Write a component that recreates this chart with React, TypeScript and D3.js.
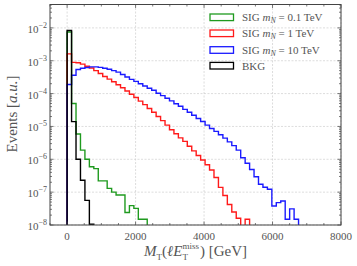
import React, { useEffect, useRef } from "react";
import * as d3 from "d3";

// bin width of all histograms [GeV], bins start at 0
const binWidth = 130;

const sig01 = [
  7.5e-3, 5.0e-5, 5.9e-6, 1.9e-6, 1.0e-6, 5.9e-7, 5.2e-7, 2.2e-7, 2.2e-7, 1.3e-7,
  1.0e-7, 8.2e-8, 8.2e-8, 2.4e-8, 3.9e-8, 3.2e-8, 1.5e-8, 1.5e-8,
];

const sig1 = [
  1.62e-3, 8.9e-4, 8.7e-4, 7.9e-4, 6.8e-4, 6.0e-4, 5.0e-4, 4.1e-4, 3.3e-4, 2.75e-4,
  2.3e-4, 1.86e-4, 1.5e-4, 1.2e-4, 9.5e-5, 7.6e-5, 5.9e-5, 4.6e-5, 3.5e-5, 2.7e-5,
  2.0e-5, 1.5e-5, 1.1e-5, 7.9e-6, 6.0e-6, 4.5e-6, 3.5e-6, 2.5e-6, 1.8e-6, 1.3e-6,
  9.5e-7, 6.8e-7, 4.7e-7, 2.8e-7, 1.4e-7, 7.9e-8, 4.2e-8, 2.5e-8, 1.6e-8, 0,
  1.5e-8,
];

const sig10 = [
  1.9e-4, 3.6e-4, 5.4e-4, 5.9e-4, 6.2e-4, 6.5e-4, 6.5e-4, 6.3e-4, 5.9e-4, 5.5e-4,
  5.0e-4, 4.5e-4, 3.8e-4, 3.2e-4, 2.7e-4, 2.35e-4, 2.0e-4, 1.7e-4, 1.45e-4, 1.26e-4,
  1.02e-4, 8.7e-5, 7.2e-5, 6.0e-5, 4.9e-5, 4.1e-5, 3.3e-5, 2.7e-5, 2.2e-5, 1.74e-5,
  1.41e-5, 1.1e-5, 8.7e-6, 7.1e-6, 5.6e-6, 4.4e-6, 3.4e-6, 2.6e-6, 1.9e-6, 1.12e-6,
  7.6e-7, 4.9e-7, 2.95e-7, 1.74e-7, 1.41e-7, 1.23e-7, 3.8e-8, 4.8e-8, 5.4e-8, 1.5e-8,
  3.1e-8, 1.5e-8,
];

const bkg = [8.3e-3, 1.4e-5, 1.0e-6, 2.3e-7, 5.6e-8, 1.05e-8];

const xTicks = [0, 2000, 4000, 6000, 8000];
const yTicks = [-8, -7, -6, -5, -4, -3, -2];

const series = [
  { label: "0.1", values: sig01, color: "#1f9a1f" },
  { label: "1", values: sig1, color: "#ff1a1a" },
  { label: "10", values: sig10, color: "#1a1aff" },
  { label: "BKG", values: bkg, color: "#000000" },
];

export default function App() {
  const ref = useRef<SVGSVGElement>(null);

  useEffect(() => {
    const m = { left: 50, right: 341, top: 4.5, bottom: 225 };
    const svg = d3.select(ref.current);
    svg.selectAll("*").remove();

    const x = d3.scaleLinear().domain([-500, 8000]).range([m.left, m.right]);
    const y = d3.scaleLog().domain([1e-8, 0.0515]).range([m.bottom, m.top]);
    const font = "'Liberation Serif', 'DejaVu Serif', serif";
    const textCol = "#555";

    svg.append("defs").append("clipPath").attr("id", "plotclip")
      .append("rect")
      .attr("x", m.left).attr("y", m.top)
      .attr("width", m.right - m.left).attr("height", m.bottom - m.top);

    // grid
    const grid = svg.append("g")
      .attr("stroke", "#cfcfcf").attr("stroke-width", 0.7)
      .attr("stroke-dasharray", "2,1.5");
    xTicks.forEach(t => {
      grid.append("line").attr("x1", x(t)).attr("x2", x(t))
        .attr("y1", m.top).attr("y2", m.bottom);
    });
    yTicks.forEach(e => {
      grid.append("line").attr("x1", m.left).attr("x2", m.right)
        .attr("y1", y(Math.pow(10, e))).attr("y2", y(Math.pow(10, e)));
    });

    // histograms (step outline, zero bins drop below the axis)
    const hist = svg.append("g").attr("clip-path", "url(#plotclip)");
    series.forEach(s => {
      const yy = (v: number) => (v > 0 ? y(v) : m.bottom + 5);
      const p = d3.path();
      p.moveTo(x(0), m.bottom + 5);
      s.values.forEach((v, i) => {
        p.lineTo(x(i * binWidth), yy(v));
        p.lineTo(x((i + 1) * binWidth), yy(v));
      });
      p.lineTo(x(s.values.length * binWidth), m.bottom + 5);
      hist.append("path").attr("d", p.toString())
        .attr("fill", "none").attr("stroke", s.color)
        .attr("stroke-width", 1.4);
    });

    // ticks
    const tk = svg.append("g").attr("stroke", "#444").attr("stroke-width", 0.7);
    xTicks.forEach(t => {
      tk.append("line").attr("x1", x(t)).attr("x2", x(t)).attr("y1", m.bottom).attr("y2", m.bottom - 3.5);
      tk.append("line").attr("x1", x(t)).attr("x2", x(t)).attr("y1", m.top).attr("y2", m.top + 3.5);
    });
    d3.range(-500, 8001, 500).filter(t => t % 2000 !== 0).forEach(t => {
      tk.append("line").attr("x1", x(t)).attr("x2", x(t)).attr("y1", m.bottom).attr("y2", m.bottom - 2);
      tk.append("line").attr("x1", x(t)).attr("x2", x(t)).attr("y1", m.top).attr("y2", m.top + 2);
    });
    yTicks.forEach(e => {
      const yv = y(Math.pow(10, e));
      tk.append("line").attr("x1", m.left).attr("x2", m.left + 3.5).attr("y1", yv).attr("y2", yv);
      tk.append("line").attr("x1", m.right).attr("x2", m.right - 3.5).attr("y1", yv).attr("y2", yv);
    });
    for (let e = -8; e <= -2; e++) {
      for (let k = 2; k <= 9; k++) {
        const v = k * Math.pow(10, e);
        if (v > 0.0515) continue;
        tk.append("line").attr("x1", m.left).attr("x2", m.left + 2).attr("y1", y(v)).attr("y2", y(v));
        tk.append("line").attr("x1", m.right).attr("x2", m.right - 2).attr("y1", y(v)).attr("y2", y(v));
      }
    }

    // frame
    svg.append("rect")
      .attr("x", m.left).attr("y", m.top)
      .attr("width", m.right - m.left).attr("height", m.bottom - m.top)
      .attr("fill", "none").attr("stroke", "#444").attr("stroke-width", 1);

    // tick labels
    const labels = svg.append("g").attr("font-family", font).attr("fill", textCol);
    xTicks.forEach(t => {
      labels.append("text").attr("x", x(t)).attr("y", 239.5)
        .attr("text-anchor", "middle").attr("font-size", 11).text(t);
    });
    yTicks.forEach(e => {
      const tx = labels.append("text").attr("x", 47).attr("y", y(Math.pow(10, e)) + 5)
        .attr("text-anchor", "end").attr("font-size", 11);
      tx.append("tspan").text("10");
      tx.append("tspan").attr("dy", -5).attr("font-size", 8).text("\u2212" + Math.abs(e));
    });

    // x label, built piece by piece so the stacked sub/superscript sit side by side
    const xl = labels.append("g");
    let cx = 0;
    const piece = (txt: string, size: number, dy: number, italic = false, advance = true) => {
      const t = xl.append("text").attr("x", cx).attr("y", dy)
        .attr("font-size", size).attr("font-style", italic ? "italic" : "normal").text(txt);
      const w = (t.node() as SVGTextElement).getComputedTextLength();
      if (advance) cx += w;
      return w;
    };
    piece("M", 15, 0, true);
    piece("T", 9, 3.5);
    piece("(", 15, 0);
    piece("\u2113E", 15, 0, true);
    const wMiss = piece("miss", 9, -7, false, false);
    const wT = piece("T", 9, 4, false, false);
    cx += Math.max(wMiss, wT) + 1;
    piece(") [GeV]", 15, 0);
    xl.attr("transform", `translate(${(m.left + m.right) / 2 - cx / 2},256)`);

    const yl = labels.append("text")
      .attr("transform", "translate(17,114) rotate(-90)")
      .attr("text-anchor", "middle").attr("font-size", 15);
    yl.append("tspan").text("Events [");
    yl.append("tspan").attr("font-style", "italic").text("a.u.");
    yl.append("tspan").text("]");

    // legend
    const lg = svg.append("g").attr("font-family", font).attr("fill", textCol);
    const rows = [17.3, 33.3, 50, 65.7];
    series.forEach((s, i) => {
      lg.append("rect").attr("x", 210).attr("y", rows[i] - 3.3)
        .attr("width", 23.5).attr("height", 6.6)
        .attr("fill", "none").attr("stroke", s.color).attr("stroke-width", 1.3);
      const t = lg.append("text").attr("x", 242).attr("y", rows[i] + 3.8).attr("font-size", 11);
      if (s.label === "BKG") {
        t.text("BKG");
      } else {
        t.append("tspan").text("SIG ");
        t.append("tspan").attr("font-style", "italic").text("m");
        t.append("tspan").attr("font-style", "italic").attr("font-size", 8).attr("dy", 2).text("N");
        t.append("tspan").attr("dy", -2).text(" = " + s.label + " TeV");
      }
    });
  }, []);

  return (
    <svg ref={ref} width={357} height={266}
      style={{ position: "absolute", left: 0, top: 0, background: "#fff" }} />
  );
}
